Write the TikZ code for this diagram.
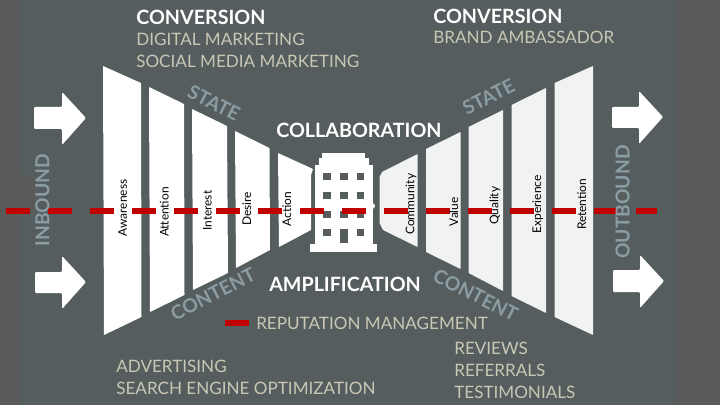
\documentclass[tikz,border=0pt]{standalone}
\usepackage{xcolor}
\usepackage{fontspec}
\setmainfont{Lato}
\usepackage{tikz}
\usetikzlibrary{arrows.meta,positioning,calc}
\definecolor{slatebg}{RGB}{85,93,94}
\definecolor{stripbg}{RGB}{91,89,89}
\definecolor{dashred}{RGB}{192,0,0}
\definecolor{khakitxt}{RGB}{200,200,180}
\definecolor{steeltxt}{RGB}{139,157,163}
\definecolor{paleslab}{RGB}{241,242,242}

\begin{document}
\begin{tikzpicture}[
  x=0.025cm, y=-0.025cm,
  every node/.style={font=\fontsize{12}{12}\selectfont, inner sep=0pt},
  slab/.style={fill=white, rounded corners=0.4pt},
  paleslab/.style={fill=paleslab, rounded corners=0.4pt},
  bigarrow/.style={fill=white, rounded corners=0.8pt},
  heading/.style={anchor=west, text=white, font=\fontsize{14}{14}\selectfont\bfseries},
  service/.style={anchor=west, text=khakitxt, font=\fontsize{12.15}{12}\selectfont},
  flowtag/.style={text=steeltxt, font=\fontsize{13.7}{14}\selectfont\bfseries},
  stage/.style={rotate=90, text=black, font=\fontsize{8.5}{9}\selectfont},
  redline/.style={draw=dashred, line width=0.15cm, dash pattern=on 0.6cm off 0.45cm}
]
  \useasboundingbox (0,0) rectangle (720,405);
  \fill[slatebg] (0,0) rectangle (720,405);
  \fill[stripbg] (0,0) rectangle (19,405);
  \fill[stripbg] (19,175) rectangle (35,210);
  \fill[stripbg] (678,0) rectangle (720,405);

  \fill[slab] (103,66) -- (141,83) -- (141.5,317) -- (104,335) -- cycle;
  \fill[slab] (149,87) -- (184,104) -- (184.5,295) -- (150,312) -- cycle;
  \fill[slab] (192,109) -- (227,126) -- (228,273) -- (193,290) -- cycle;
  \fill[slab] (235,131) -- (269.5,148) -- (270,250) -- (236,268) -- cycle;
  \fill[slab] (278,153) -- (313,169) -- (311,175) -- (311,230) -- (279,247) -- cycle;

  \fill[paleslab] (417.5,154) -- (382,172) -- (379.5,177) -- (379.5,223) -- (383,230) -- (417.5,247) -- cycle;
  \fill[paleslab] (426,149) -- (460.5,132) -- (460.5,269) -- (426,252) -- cycle;
  \fill[paleslab] (468.5,127) -- (503,110) -- (503,291) -- (468.5,273) -- cycle;
  \fill[paleslab] (511.5,105) -- (546,88) -- (546,313) -- (511.5,296) -- cycle;
  \fill[paleslab] (554.5,83) -- (593,66) -- (593,335) -- (554.5,317) -- cycle;

  \fill[bigarrow] (34,107) -- (62,107) -- (62,92) -- (86,118) -- (62,145) -- (62,129) -- (34,129) -- cycle;
  \fill[bigarrow] (35,272) -- (62,272) -- (62,256) -- (86,282) -- (62,309) -- (62,293) -- (35,293) -- cycle;
  \fill[bigarrow] (612,107) -- (639,107) -- (639,91) -- (663,117) -- (639,144) -- (639,128) -- (612,128) -- cycle;
  \fill[bigarrow] (613,270) -- (640,270) -- (640,255) -- (664,281) -- (640,308) -- (640,292) -- (613,292) -- cycle;

  \fill[white] (310,244) rectangle (377,252);
  \fill[white] (315,165) rectangle (372.5,244);
  \fill[white] (318.5,158) rectangle (369,165);
  \fill[white] (322,153) rectangle (365,158);
  \fill[white] (372,206) circle (3);
  \foreach \wx in {323,340,356.5}
    \foreach \wy in {173,192,211,229.5}
      \fill[slatebg] (\wx,\wy) rectangle ++(7.5,7);
  \fill[slatebg] (340,229.5) rectangle (347.5,243.5);

  \coordinate (redstart) at (6,211);
  \coordinate (redend) at (657,211);
  \coordinate (keystart) at (225,323);
  \coordinate (keyend) at (249,323);
  \draw[redline] (redstart) -- (redend);
  \draw[redline] (keystart) -- (keyend);

  \node[stage] (awareness) at (122.7,208) {Awareness};
  \node[stage] (attention) at (164.3,212) {Attention};
  \node[stage] (interest) at (207.3,210.7) {Interest};
  \node[stage] (desire) at (246.7,209) {Desire};
  \node[stage] (action) at (286.7,209) {Action};
  \node[stage] (community) at (411,204.3) {Community};
  \node[stage] (value) at (453.7,211.7) {Value};
  \node[stage] (quality) at (495,205.7) {Quality};
  \node[stage] (experience) at (537.7,204.3) {Experience};
  \node[stage] (retention) at (581.7,204.3) {Retention};

  \node[heading] (convleft) at (136,17) {CONVERSION};
  \node[service] (digital) at (136,39) {DIGITAL MARKETING};
  \node[service] (social) at (136,61) {SOCIAL MEDIA MARKETING};
  \node[heading] (convright) at (433,16) {CONVERSION};
  \node[service] (brand) at (433,37) {BRAND AMBASSADOR};
  \node[heading] (collab) at (276,130) {COLLABORATION};
  \node[heading] (amplify) at (269,284) {AMPLIFICATION};
  \node[service] (reputation) at (256,323) {REPUTATION MANAGEMENT};
  \node[service] (advert) at (116,366) {ADVERTISING};
  \node[service] (search) at (116,388) {SEARCH ENGINE OPTIMIZATION};
  \node[service] (reviews) at (454,348) {REVIEWS};
  \node[service] (referrals) at (454,370) {REFERRALS};
  \node[service] (testimonials) at (454,392) {TESTIMONIALS};

  \node[flowtag, rotate=-27] (stateleft) at (214,103) {STATE};
  \node[flowtag, rotate=27] (contentleft) at (213,294) {CONTENT};
  \node[flowtag, rotate=27] (stateright) at (488.7,96.7) {STATE};
  \node[flowtag, rotate=-27] (contentright) at (475.7,295) {CONTENT};
  \node[flowtag, rotate=90] (inbound) at (42.3,200) {INBOUND};
  \node[flowtag, rotate=90] (outbound) at (622.7,202) {OUTBOUND};
\end{tikzpicture}
\end{document}
